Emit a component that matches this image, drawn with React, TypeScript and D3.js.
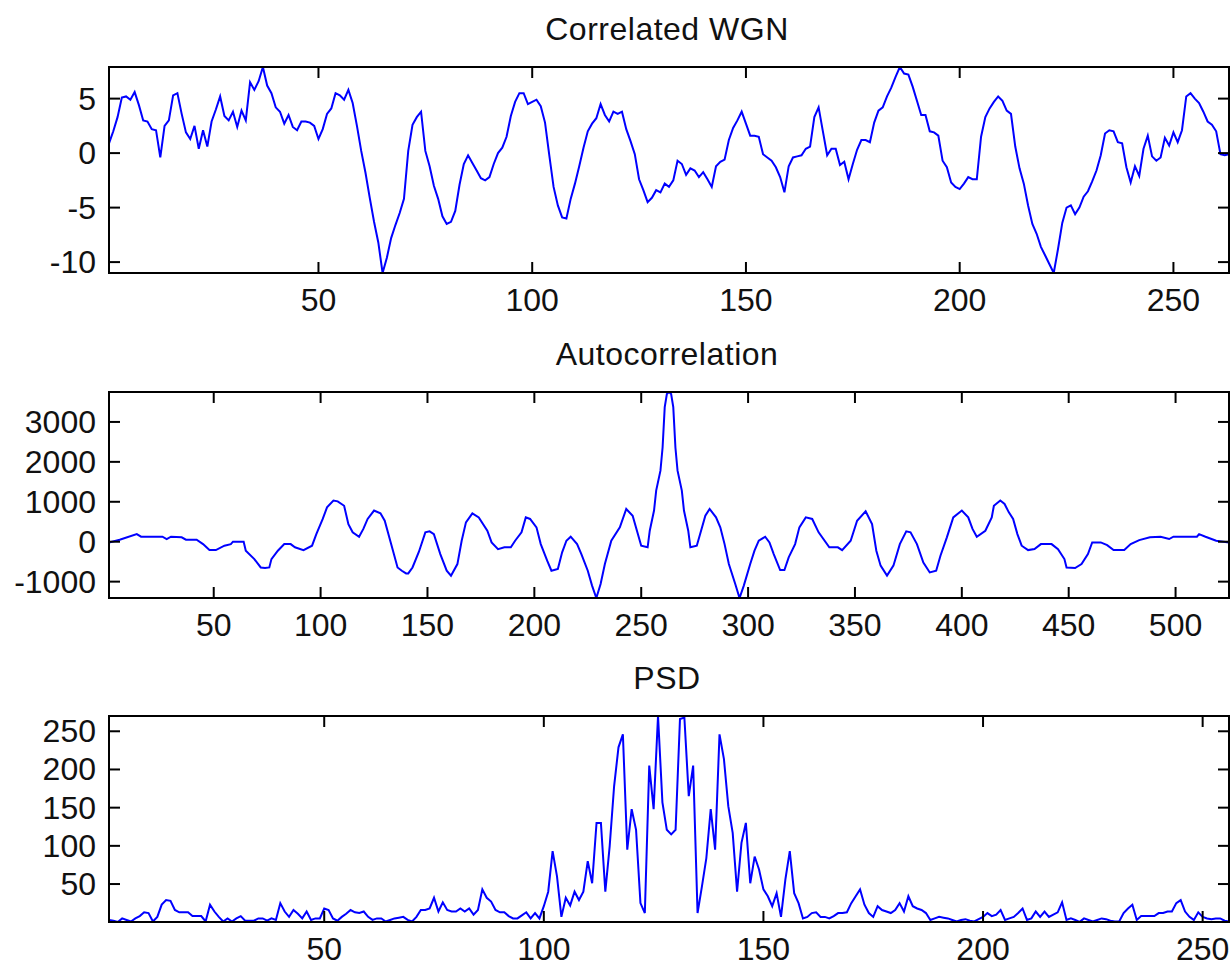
import React from "react";
import * as d3 from "d3";

// figure geometry (px)
const W = 1232;
const H = 968;
const LEFT = 109;
const RIGHT = 1229;
const PANEL_H = 206;

// Correlated WGN, samples 1..263
const wgnValues = [
  0.9, 2.0, 3.3, 5.1, 5.2, 4.9, 5.6, 4.4, 3.0, 2.9,
  2.2, 2.1, -0.4, 2.5, 3.0, 5.3, 5.5, 3.6, 1.9, 1.3,
  2.5, 0.4, 2.1, 0.6, 2.9, 4.0, 5.2, 3.4, 3.0, 3.8,
  2.4, 3.9, 3.0, 6.5, 5.8, 6.6, 7.9, 6.2, 5.5, 4.2,
  3.8, 2.7, 3.5, 2.4, 2.1, 2.9, 2.9, 2.8, 2.5, 1.3,
  2.2, 3.6, 4.1, 5.5, 5.3, 4.9, 5.8, 4.6, 2.5, 0.2,
  -1.8, -4.1, -6.3, -8.2, -11.0, -9.6, -7.8, -6.6, -5.5, -4.2,
  0.2, 2.6, 3.3, 3.8, 0.2, -1.2, -3.0, -4.2, -5.8, -6.5,
  -6.3, -5.3, -2.9, -1.0, -0.2, -0.9, -1.6, -2.3, -2.5, -2.2,
  -1.0, 0.0, 0.5, 1.5, 3.4, 4.7, 5.5, 5.5, 4.5, 4.7,
  4.9, 4.3, 2.8, -0.2, -3.1, -4.8, -5.9, -6.0, -4.2, -2.8,
  -1.2, 0.5, 2.0, 2.7, 3.2, 4.5, 3.5, 2.9, 3.8, 3.6,
  3.8, 2.2, 1.1, -0.1, -2.4, -3.4, -4.5, -4.1, -3.4, -3.6,
  -2.8, -3.1, -2.5, -0.7, -1.0, -2.0, -1.4, -1.6, -2.2, -1.75,
  -2.4, -3.1, -1.2, -0.8, -0.6, 1.2, 2.3, 3.0, 3.8, 2.7,
  1.6, 1.6, 1.5, -0.1, -0.4, -0.7, -1.3, -2.2, -3.6, -1.2,
  -0.4, -0.3, -0.2, 0.4, 0.6, 3.3, 4.2, 2.0, -0.2, 0.4,
  0.4, -1.1, -0.8, -2.4, -1.0, 0.3, 1.2, 1.2, 1.0, 2.8,
  3.9, 4.2, 5.2, 6.0, 7.0, 7.9, 7.3, 7.2, 6.1, 4.8,
  3.5, 3.5, 2.0, 1.9, 1.6, -0.7, -1.3, -2.7, -3.1, -3.3,
  -2.8, -2.2, -2.4, -2.4, 1.5, 3.3, 4.1, 4.7, 5.2, 4.8,
  3.9, 3.6, 0.6, -1.4, -2.8, -4.8, -6.5, -7.4, -8.6, -9.4,
  -10.2, -11.0, -8.8, -6.4, -5.0, -4.8, -5.6, -5.0, -4.0, -3.5,
  -2.6, -1.6, -0.2, 1.8, 2.1, 2.0, 1.0, 0.9, -1.3, -2.7,
  -1.2, -2.1, 0.4, 1.6, -0.3, -0.7, -0.4, 1.4, 0.7, 1.9,
  1.0, 2.1, 5.2, 5.5, 5.0, 4.6, 3.8, 2.9, 2.6, 2.0,
  -0.1, -0.2, -0.1,
];

// Autocorrelation, read at these lags (1..525)
const acfLags = [
  1, 6, 14, 16, 26, 28, 30, 35, 37, 42, 45, 48, 51, 55, 58, 59, 64, 65, 69, 72,
  74, 76, 77, 80, 83, 86, 88, 92, 96, 98, 101, 103, 106, 108, 111, 113, 115, 118, 120, 122,
  125, 128, 130, 133, 136, 138, 140, 141, 143, 146, 149, 151, 153, 156, 159, 161, 164, 166, 168, 171,
  174, 178, 180, 183, 186, 189, 191, 194, 196, 198, 201, 203, 206, 208, 211, 213, 215, 217, 220, 222,
  225, 227, 229, 231, 233, 236, 240, 243, 246, 248, 250, 253, 254, 256, 257, 259, 260, 261, 262, 263,
  264, 265, 266, 267, 269, 270, 272, 273, 276, 278, 280, 282, 285, 287, 289, 291, 294, 296, 298, 301,
  303, 305, 308, 310, 312, 315, 317, 319, 322, 324, 327, 330, 333, 338, 342, 344, 348, 351, 355, 358,
  360, 362, 365, 368, 371, 374, 376, 379, 382, 385, 388, 390, 393, 396, 400, 403, 405, 407, 411, 414,
  415, 418, 420, 422, 424, 426, 428, 431, 434, 437, 442, 445, 448, 449, 453, 456, 459, 461, 465, 468,
  471, 476, 479, 483, 488, 493, 497, 499, 510, 511, 514, 519, 525,
];
const acfValues = [
  -20, 50, 190, 125, 125, 67, 125, 110, 50, 50, -60, -210, -210, -100, -60, 0, 0, -225, -435, -645,
  -660, -645, -435, -225, -60, -60, -140, -210, -100, 190, 570, 860, 1030, 1010, 900, 440, 235, 125, 320, 570,
  780, 710, 525, -60, -645, -727, -795, -795, -645, -250, 235, 260, 190, -310, -727, -850, -560, 25, 485, 710,
  610, 275, -17, -185, -140, -140, 25, 235, 610, 570, 360, -60, -475, -727, -685, -267, 25, 125, -60, -310,
  -727, -1100, -1410, -1060, -560, 25, 360, 820, 650, 275, -100, -140, 275, 780, 1280, 1780, 2360, 3370, 3700, 3750,
  3700, 3370, 2360, 1780, 1280, 780, 275, -140, -100, 275, 650, 820, 610, 360, -60, -560, -1060, -1410, -1100, -560,
  -225, 25, 125, -17, -310, -710, -710, -393, -60, 360, 610, 570, 235, -140, -140, -210, 25, 525, 760, 440,
  -225, -600, -850, -600, -60, 260, 235, -60, -520, -770, -727, -350, 110, 610, 780, 610, 320, 125, 275, 610,
  900, 1030, 945, 735, 570, 190, -100, -210, -185, -60, -60, -185, -435, -645, -660, -560, -310, -17, -17, -85,
  -210, -210, -60, 40, 110, 125, 67, 125, 125, 190, 125, 25, -17,
];
const acfLength = 525;

// PSD, bins 1..256
const psdValues = [
  3, 2, 0.3, 5, 3, 1, 5, 8, 13, 12,
  1, 7, 23, 29, 28, 16, 13, 13, 13, 8,
  8, 8, 1, 23, 14, 7, 1, 5, 1, 5,
  8, 2, 2, 2, 5, 5, 2, 5, 3, 25,
  14, 7, 16, 11, 5, 14, 3, 5, 5, 18,
  16, 5, 2, 7, 11, 16, 13, 12, 14, 7,
  3, 5, 5, 1, 3, 5, 6, 7, 3, 1,
  7, 16, 16, 18, 32, 14, 26, 16, 14, 14,
  18, 14, 18, 10, 16, 43, 32, 27, 16, 13,
  13, 8, 5, 5, 9, 13, 5, 12, 5, 21,
  40, 93, 60, 7, 32, 22, 40, 29, 40, 80,
  51, 130, 130, 40, 100, 178, 229, 246, 95, 148,
  121, 25, 12, 205, 148, 270, 157, 121, 115, 121,
  266, 268, 165, 205, 12, 47, 84, 148, 95, 246,
  214, 152, 117, 40, 104, 130, 51, 86, 69, 43,
  34, 21, 38, 7, 56, 93, 38, 25, 5, 7,
  12, 13, 7, 7, 5, 8, 12, 12, 13, 25,
  34, 43, 23, 12, 7, 21, 16, 14, 12, 16,
  25, 14, 34, 21, 18, 16, 12, 3, 5, 7,
  6, 5, 3, 1, 3, 4, 2, 1, 4, 7,
  12, 8, 10, 16, 3, 5, 7, 12, 18, 3,
  5, 14, 7, 14, 7, 10, 13, 26, 3, 5,
  3, 0.5, 5, 3, 1, 3, 5, 4, 2, 1,
  1, 12, 18, 23, 3, 8, 8, 8, 8, 12,
  12, 14, 14, 25, 29, 14, 7, 3, 13, 7,
  5, 4, 5, 5, 2, 1,
];

const wgnXTicks = [50, 100, 150, 200, 250];
const wgnYTicks = [-10, -5, 0, 5];
const acfXTicks = [50, 100, 150, 200, 250, 300, 350, 400, 450, 500];
const acfYTicks = [-1000, 0, 1000, 2000, 3000];
const psdXTicks = [50, 100, 150, 200, 250];
const psdYTicks = [50, 100, 150, 200, 250];

const FONT = "'Liberation Sans', Arial, Helvetica, sans-serif";
const TICK = 11;

type PanelProps = {
  id: string;
  top: number;
  title: string;
  xs: number[];
  ys: number[];
  xDomain: [number, number];
  xTicks: number[];
  yTicks: number[];
};

function Panel({ id, top, title, xs, ys, xDomain, xTicks, yTicks }: PanelProps) {
  const bottom = top + PANEL_H;
  const x = d3.scaleLinear().domain(xDomain).range([LEFT, RIGHT]);
  const y = d3
    .scaleLinear()
    .domain(d3.extent(ys) as [number, number])
    .range([bottom, top]);
  const line = d3
    .line<number>()
    .x((d, i) => x(xs[i]))
    .y((d) => y(d));

  return (
    <g>
      <defs>
        <clipPath id={id}>
          <rect x={LEFT} y={top} width={RIGHT - LEFT} height={PANEL_H} />
        </clipPath>
      </defs>
      <text
        x={(LEFT + RIGHT) / 2 - 2}
        y={top - 27}
        textAnchor="middle"
        fontFamily={FONT}
        fontSize={32}
        letterSpacing={0.5}
        fill="#111"
      >
        {title}
      </text>
      <path
        d={line(ys) || ""}
        fill="none"
        stroke="#0000ff"
        strokeWidth={2}
        strokeLinejoin="miter"
        clipPath={`url(#${id})`}
      />
      {xTicks.map((t) => (
        <g key={"x" + t}>
          <line x1={x(t)} x2={x(t)} y1={bottom} y2={bottom - TICK} stroke="#000" strokeWidth={2} />
          <line x1={x(t)} x2={x(t)} y1={top} y2={top + TICK} stroke="#000" strokeWidth={2} />
          <text
            x={x(t)}
            y={bottom + 38}
            textAnchor="middle"
            fontFamily={FONT}
            fontSize={32}
            fill="#111"
          >
            {String(t)}
          </text>
        </g>
      ))}
      {yTicks.map((t) => (
        <g key={"y" + t}>
          <line x1={LEFT} x2={LEFT + TICK} y1={y(t)} y2={y(t)} stroke="#000" strokeWidth={2} />
          <line x1={RIGHT} x2={RIGHT - TICK} y1={y(t)} y2={y(t)} stroke="#000" strokeWidth={2} />
          <text
            x={96}
            y={y(t) + 11}
            textAnchor="end"
            fontFamily={FONT}
            fontSize={32}
            fill="#111"
          >
            {String(t)}
          </text>
        </g>
      ))}
      <rect
        x={LEFT}
        y={top}
        width={RIGHT - LEFT}
        height={PANEL_H}
        fill="none"
        stroke="#000"
        strokeWidth={2}
      />
    </g>
  );
}

export default function App() {
  const wgnIdx = wgnValues.map((_, i) => i + 1);
  const psdIdx = psdValues.map((_, i) => i + 1);

  return (
    <svg
      width={W}
      height={H}
      style={{ position: "absolute", left: 0, top: 0, background: "#fff" }}
    >
      <rect x={0} y={0} width={W} height={H} fill="#fff" />
      <Panel
        id="clip-wgn"
        top={67}
        title="Correlated WGN"
        xs={wgnIdx}
        ys={wgnValues}
        xDomain={[1, wgnValues.length]}
        xTicks={wgnXTicks}
        yTicks={wgnYTicks}
      />
      <Panel
        id="clip-acf"
        top={392}
        title="Autocorrelation"
        xs={acfLags}
        ys={acfValues}
        xDomain={[1, acfLength]}
        xTicks={acfXTicks}
        yTicks={acfYTicks}
      />
      <Panel
        id="clip-psd"
        top={716}
        title="PSD"
        xs={psdIdx}
        ys={psdValues}
        xDomain={[1, psdValues.length]}
        xTicks={psdXTicks}
        yTicks={psdYTicks}
      />
    </svg>
  );
}
